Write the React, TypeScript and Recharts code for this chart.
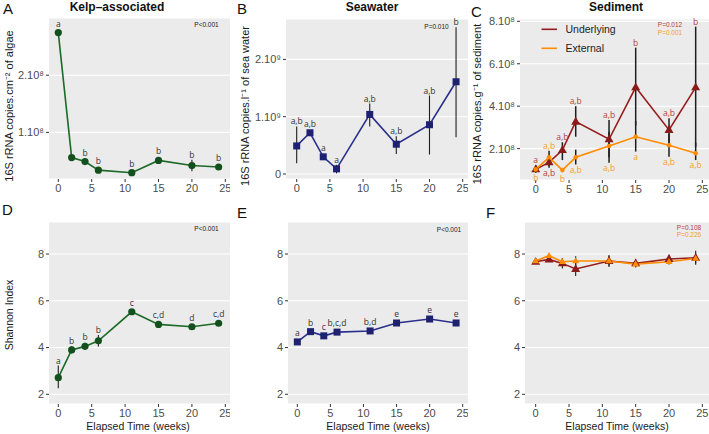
// Six-panel figure: 16S abundance (top row) and Shannon diversity (bottom row)
// over elapsed weeks for kelp-associated, seawater and sediment communities.
import React from "react";
import { CartesianGrid, ComposedChart, ErrorBar, Line, XAxis, YAxis } from "recharts";

const FONT = "'Liberation Sans', Arial, Helvetica, sans-serif";
const PANEL_BG = "#EBEBEB";
const GREEN = "#1c6a27";
const GREEN_DOT = "#14501d";
const NAVY = "#2a2f8c";
const NAVY_DOT = "#1d2170";
const DARKRED = "#961d1d";
const DARKRED_DOT = "#8b1a1a";
const ORANGE = "#ff8c00";
const RED_TXT = "#b5403f";
const ORANGE_TXT = "#f39c2b";

const weeks = [0, 2, 4, 6, 11, 15, 20, 24];
const weekTicks = [0, 5, 10, 15, 20, 25];

// A: kelp-associated abundance (x1e8 copies per cm2)
const kelpAbund = [2.745, 0.56, 0.49, 0.34, 0.295, 0.51, 0.42, 0.395];
const kelpAbundErr = [0.04, 0.02, 0.03, 0.03, 0.02, 0.04, 0.1, 0.03];
const kelpAbundLetters = ["a", "", "b", "b", "b", "b", "b", "b"];

// B: seawater abundance (x1e9 copies per l)
const seaAbund = [0.49, 0.72, 0.3, 0.09, 1.04, 0.52, 0.86, 1.61];
const seaAbundLo = [0.3, 0.04, 0.04, 0.08, 0.21, 0.17, 0.52, 0.97];
const seaAbundHi = [0.34, 0.04, 0.04, 0.07, 0.19, 0.14, 0.51, 0.95];
const seaAbundLetters = ["a,b", "a,b", "a", "a", "a,b", "a,b", "a,b", "b"];

// C: sediment abundance (x1e8 copies per g)
const sedUnderAbund = [1.02, 1.35, 1.93, 3.27, 2.44, 4.89, 2.88, 4.89];
const sedUnderAbundLo = [0.15, 0.25, 0.47, 0.71, 0.85, 1.8, 0.6, 2.8];
const sedUnderAbundHi = [0.2, 0.25, 0.37, 0.73, 0.91, 1.87, 0.55, 2.86];
const sedUnderAbundLetters = ["a", "a,b", "a,b", "a,b", "a,b", "b", "a,b", "b"];
const sedExtAbund = [1.02, 1.59, 0.99, 1.59, 2.12, 2.56, 2.16, 1.78];
const sedExtAbundLo = [0.15, 0.39, 0.1, 0.34, 0.79, 0.7, 0.54, 0.32];
const sedExtAbundHi = [0.18, 0.31, 0.1, 0.36, 0.68, 0.74, 0.54, 0.5];
const sedExtAbundLetters = ["b", "a,b", "b", "a,b", "a,b", "a", "a,b", "a,b"];

// D: kelp-associated Shannon index
const kelpShannon = [2.71, 3.9, 4.05, 4.29, 5.53, 4.99, 4.89, 5.04];
const kelpShannonLo = [0.45, 0.15, 0.15, 0.25, 0.05, 0.05, 0.04, 0.07];
const kelpShannonHi = [0.52, 0.15, 0.15, 0.25, 0.05, 0.05, 0.04, 0.07];
const kelpShannonLetters = ["a", "b", "b", "b", "c", "c,d", "d", "c,d"];

// E: seawater Shannon index
const seaShannon = [4.24, 4.68, 4.5, 4.66, 4.71, 5.05, 5.22, 5.05];
const seaShannonErr = [0.06, 0.06, 0.05, 0.05, 0.07, 0.05, 0.04, 0.05];
const seaShannonLetters = ["a", "b", "c", "b,c,d", "b,d", "e", "e", "e"];

// F: sediment Shannon index
const sedUnderShannon = [7.67, 7.77, 7.6, 7.36, 7.7, 7.6, 7.79, 7.84];
const sedUnderShannonErr = [0.08, 0.08, 0.22, 0.3, 0.26, 0.18, 0.18, 0.3];
const sedExtShannon = [7.7, 7.93, 7.67, 7.7, 7.7, 7.57, 7.67, 7.81];
const sedExtShannonErr = [0.06, 0.06, 0.15, 0.2, 0.2, 0.12, 0.12, 0.2];

// which side of the point each sediment letter sits on
const underSides = ["up", "down", "up", "up", "up", "up", "up", "up"];
const extSides = ["down", "up", "down", "down", "down", "down", "down", "down"];

type Shape = "circle" | "square" | "triangle";
type Series = {
  key: string;
  values: number[];
  lo: number[];
  hi: number[];
  line: string;
  fill: string;
  shape: Shape;
  size: number;
  letters?: string[];
  sides?: string[];
  letterColor?: string;
  errWidth?: number;
};
type Box = { l: number; t: number; r: number; b: number };

const Y_AXIS_W = 44;
const X_AXIS_H = 22;
const PAD_TOP = 4;

function Marker({ cx, cy, shape, size, fill }: { cx: number; cy: number; shape: Shape; size: number; fill: string }) {
  if (cx == null || cy == null) return null;
  if (shape === "square") {
    return <rect x={cx - size / 2} y={cy - size / 2} width={size} height={size} fill={fill} />;
  }
  if (shape === "triangle") {
    const h = size * 0.87;
    return (
      <polygon
        points={`${cx},${cy - h * 0.62} ${cx - size / 2},${cy + h * 0.38} ${cx + size / 2},${cy + h * 0.38}`}
        fill={fill}
      />
    );
  }
  return <circle cx={cx} cy={cy} r={size} fill={fill} />;
}

function Panel({
  box, xDomain, yDomain, yTicks, yFmt, series,
}: {
  box: Box; xDomain: [number, number]; yDomain: [number, number]; yTicks: number[];
  yFmt: (v: number) => string; series: Series[];
}) {
  const plotH = box.b - box.t;
  const k = plotH / (yDomain[1] - yDomain[0]); // px per unit, only for nudging letters
  const data = weeks.map((w, i) => {
    const row: Record<string, unknown> = { week: w };
    series.forEach((s) => {
      row[s.key] = s.values[i];
      row[s.key + "Err"] = [s.lo[i], s.hi[i]];
    });
    return row;
  });
  const width = Y_AXIS_W + box.r - box.l;
  const height = PAD_TOP + plotH + X_AXIS_H;
  const tick = { fontSize: 11, fill: "#4d4d4d", fontFamily: FONT };

  const letterLabel = (s: Series) => (p: any) => {
    const i = p.index;
    const x = p.x ?? p.viewBox?.x;
    const y = p.y ?? p.viewBox?.y;
    const txt = s.letters?.[i];
    if (!txt || x == null || y == null) return null;
    const side = s.sides ? s.sides[i] : "up";
    let base: number;
    if (side === "up") {
      base = Math.min(y - s.hi[i] * k, y - 4) - 2;
    } else {
      base = Math.max(y + s.lo[i] * k, y + 4) + 8;
    }
    return (
      <text key={`l-${s.key}-${i}`} x={x} y={base} textAnchor="middle" fontSize={8.5}
        fontFamily="'Open Sans', 'Liberation Sans', sans-serif" fill={s.letterColor ?? "#333"}>
        {txt}
      </text>
    );
  };

  return (
    <div style={{ position: "absolute", left: box.l - Y_AXIS_W, top: box.t - PAD_TOP }}>
      <ComposedChart width={width} height={height} data={data}
        margin={{ top: PAD_TOP, right: 0, bottom: 0, left: 0 }}>
        <CartesianGrid vertical={false} fill={PANEL_BG} stroke="#ffffff" strokeWidth={1.1} />
        <XAxis type="number" dataKey="week" domain={xDomain} ticks={weekTicks} allowDataOverflow interval={0}
          height={X_AXIS_H} axisLine={false} tickSize={3} tickLine={{ stroke: "#333" }} tick={tick} />
        <YAxis type="number" domain={yDomain} ticks={yTicks} allowDataOverflow interval={0}
          width={Y_AXIS_W} axisLine={false} tickSize={3} tickLine={{ stroke: "#333" }} tick={tick}
          tickFormatter={yFmt} />
        {series.map((s) => (
          <Line key={s.key} dataKey={s.key} type="linear" stroke={s.line} strokeWidth={1.6}
            isAnimationActive={false} activeDot={false}
            dot={(p: any) => (
              <Marker key={`d-${s.key}-${p.index}`} cx={p.cx} cy={p.cy} shape={s.shape} size={s.size} fill={s.fill} />
            )}
            label={s.letters ? letterLabel(s) : false}>
            <ErrorBar dataKey={s.key + "Err"} width={0} stroke="#1e1e1e" strokeWidth={s.errWidth ?? 1.1}
              direction="y" isAnimationActive={false} />
          </Line>
        ))}
      </ComposedChart>
    </div>
  );
}

const e8 = (v: number) => `${v}.10⁸`;
const e9 = (v: number) => (v === 0 ? "0" : `${v}.10⁹`);
const plain = (v: number) => `${v}`;

const shannonDomain: [number, number] = [1.585, 9.37];

function Overlay() {
  const title = { fontFamily: FONT, fontWeight: 700, fontSize: 12, fill: "#111" } as const;
  const letter = { fontFamily: FONT, fontSize: 15, fill: "#111" } as const;
  const axisTitle = { fontFamily: FONT, fontSize: 11, fill: "#1a1a1a" } as const;
  const xTitle = { fontFamily: FONT, fontSize: 10.5, fill: "#1a1a1a" } as const;
  const pv = { fontFamily: FONT, fontSize: 6.5, fill: "#222" } as const;
  return (
    <svg width={709} height={434} style={{ position: "absolute", left: 0, top: 0, pointerEvents: "none" }}>
      <text x={3} y={14} {...letter}>A</text>
      <text x={237} y={14} {...letter}>B</text>
      <text x={471} y={17} {...letter}>C</text>
      <text x={2} y={215} {...letter}>D</text>
      <text x={237} y={218} {...letter}>E</text>
      <text x={486} y={218} {...letter}>F</text>

      <text x={117} y={11} textAnchor="middle" {...title}>Kelp–associated</text>
      <text x={372} y={11} textAnchor="middle" {...title}>Seawater</text>
      <text x={616} y={11} textAnchor="middle" {...title}>Sediment</text>

      <text transform="translate(13,106) rotate(-90)" textAnchor="middle" {...axisTitle}>16S rRNA copies.cm⁻² of algae</text>
      <text transform="translate(249,106) rotate(-90)" textAnchor="middle" {...axisTitle}>16S rRNA copies.l⁻¹ of sea water</text>
      <text transform="translate(481,104) rotate(-90)" textAnchor="middle" {...axisTitle}>16S rRNA copies.g⁻¹ of sediment</text>
      <text transform="translate(13,315) rotate(-90)" textAnchor="middle" {...xTitle}>Shannon Index</text>

      <text x={138} y={429.5} textAnchor="middle" {...xTitle}>Elapsed Time (weeks)</text>
      <text x={378} y={429.5} textAnchor="middle" {...xTitle}>Elapsed Time (weeks)</text>
      <text x={617} y={429.5} textAnchor="middle" {...xTitle}>Elapsed Time (weeks)</text>

      <text x={206.5} y={27.3} textAnchor="middle" {...pv}>P&lt;0.001</text>
      <text x={436.5} y={29.3} textAnchor="middle" {...pv}>P=0.010</text>
      <text x={670} y={27.3} textAnchor="middle" {...pv} fill={RED_TXT}>P=0.012</text>
      <text x={670} y={35.3} textAnchor="middle" {...pv} fill={ORANGE_TXT}>P=0.001</text>
      <text x={206.5} y={231.3} textAnchor="middle" {...pv}>P&lt;0.001</text>
      <text x={449} y={232} textAnchor="middle" {...pv}>P&lt;0.001</text>
      <text x={689} y={230} textAnchor="middle" {...pv} fill={RED_TXT}>P=0.108</text>
      <text x={689} y={237.3} textAnchor="middle" {...pv} fill={ORANGE_TXT}>P=0.226</text>

      <line x1={541.5} x2={557} y1={29.3} y2={29.3} stroke={DARKRED} strokeWidth={1.6} />
      <line x1={541.5} x2={557} y1={48.3} y2={48.3} stroke={ORANGE} strokeWidth={1.6} />
      <text x={565.5} y={33} fontFamily={FONT} fontSize={10.5} fill="#222">Underlying</text>
      <text x={565.5} y={52} fontFamily={FONT} fontSize={10.5} fill="#222">External</text>
    </svg>
  );
}

export default function App() {
  return (
    <div style={{ position: "absolute", left: 0, top: 0, width: 709, height: 434, background: "#fff", overflow: "hidden" }}>
      <Panel box={{ l: 49, t: 18, r: 230, b: 179 }} xDomain={[-1.39, 25.7]} yDomain={[0.185, 3.0]} yTicks={[1, 2]} yFmt={e8}
        series={[{ key: "kelp", values: kelpAbund, lo: kelpAbundErr, hi: kelpAbundErr, line: GREEN, fill: GREEN_DOT,
          shape: "circle", size: 3.6, letters: kelpAbundLetters }]} />
      <Panel box={{ l: 286, t: 19, r: 468, b: 179 }} xDomain={[-1.61, 25.8]} yDomain={[-0.087, 2.705]} yTicks={[0, 1, 2]} yFmt={e9}
        series={[{ key: "sea", values: seaAbund, lo: seaAbundLo, hi: seaAbundHi, line: NAVY, fill: NAVY_DOT,
          shape: "square", size: 7, letters: seaAbundLetters }]} />
      <Panel box={{ l: 520, t: 19, r: 709, b: 180 }} xDomain={[-2.36, 26.0]} yDomain={[0.52, 8.11]} yTicks={[2, 4, 6, 8]} yFmt={e8}
        series={[
          { key: "under", values: sedUnderAbund, lo: sedUnderAbundLo, hi: sedUnderAbundHi, line: DARKRED, fill: DARKRED_DOT,
            shape: "triangle", size: 9, letters: sedUnderAbundLetters, sides: underSides, letterColor: RED_TXT, errWidth: 1.5 },
          { key: "ext", values: sedExtAbund, lo: sedExtAbundLo, hi: sedExtAbundHi, line: ORANGE, fill: ORANGE,
            shape: "circle", size: 2.3, letters: sedExtAbundLetters, sides: extSides, letterColor: ORANGE_TXT, errWidth: 1.5 },
        ]} />
      <Panel box={{ l: 49, t: 222, r: 230, b: 404 }} xDomain={[-1.39, 25.7]} yDomain={shannonDomain} yTicks={[2, 4, 6, 8]} yFmt={plain}
        series={[{ key: "kelpH", values: kelpShannon, lo: kelpShannonLo, hi: kelpShannonHi, line: GREEN, fill: GREEN_DOT,
          shape: "circle", size: 3.6, letters: kelpShannonLetters }]} />
      <Panel box={{ l: 288, t: 222, r: 468, b: 404 }} xDomain={[-1.41, 25.8]} yDomain={shannonDomain} yTicks={[2, 4, 6, 8]} yFmt={plain}
        series={[{ key: "seaH", values: seaShannon, lo: seaShannonErr, hi: seaShannonErr, line: NAVY, fill: NAVY_DOT,
          shape: "square", size: 7, letters: seaShannonLetters }]} />
      <Panel box={{ l: 525, t: 222, r: 709, b: 404 }} xDomain={[-1.6, 26.0]} yDomain={shannonDomain} yTicks={[2, 4, 6, 8]} yFmt={plain}
        series={[
          { key: "underH", values: sedUnderShannon, lo: sedUnderShannonErr, hi: sedUnderShannonErr, line: DARKRED, fill: DARKRED_DOT,
            shape: "triangle", size: 9 },
          { key: "extH", values: sedExtShannon, lo: sedExtShannonErr, hi: sedExtShannonErr, line: ORANGE, fill: ORANGE,
            shape: "triangle", size: 7 },
        ]} />
      <Overlay />
    </div>
  );
}
